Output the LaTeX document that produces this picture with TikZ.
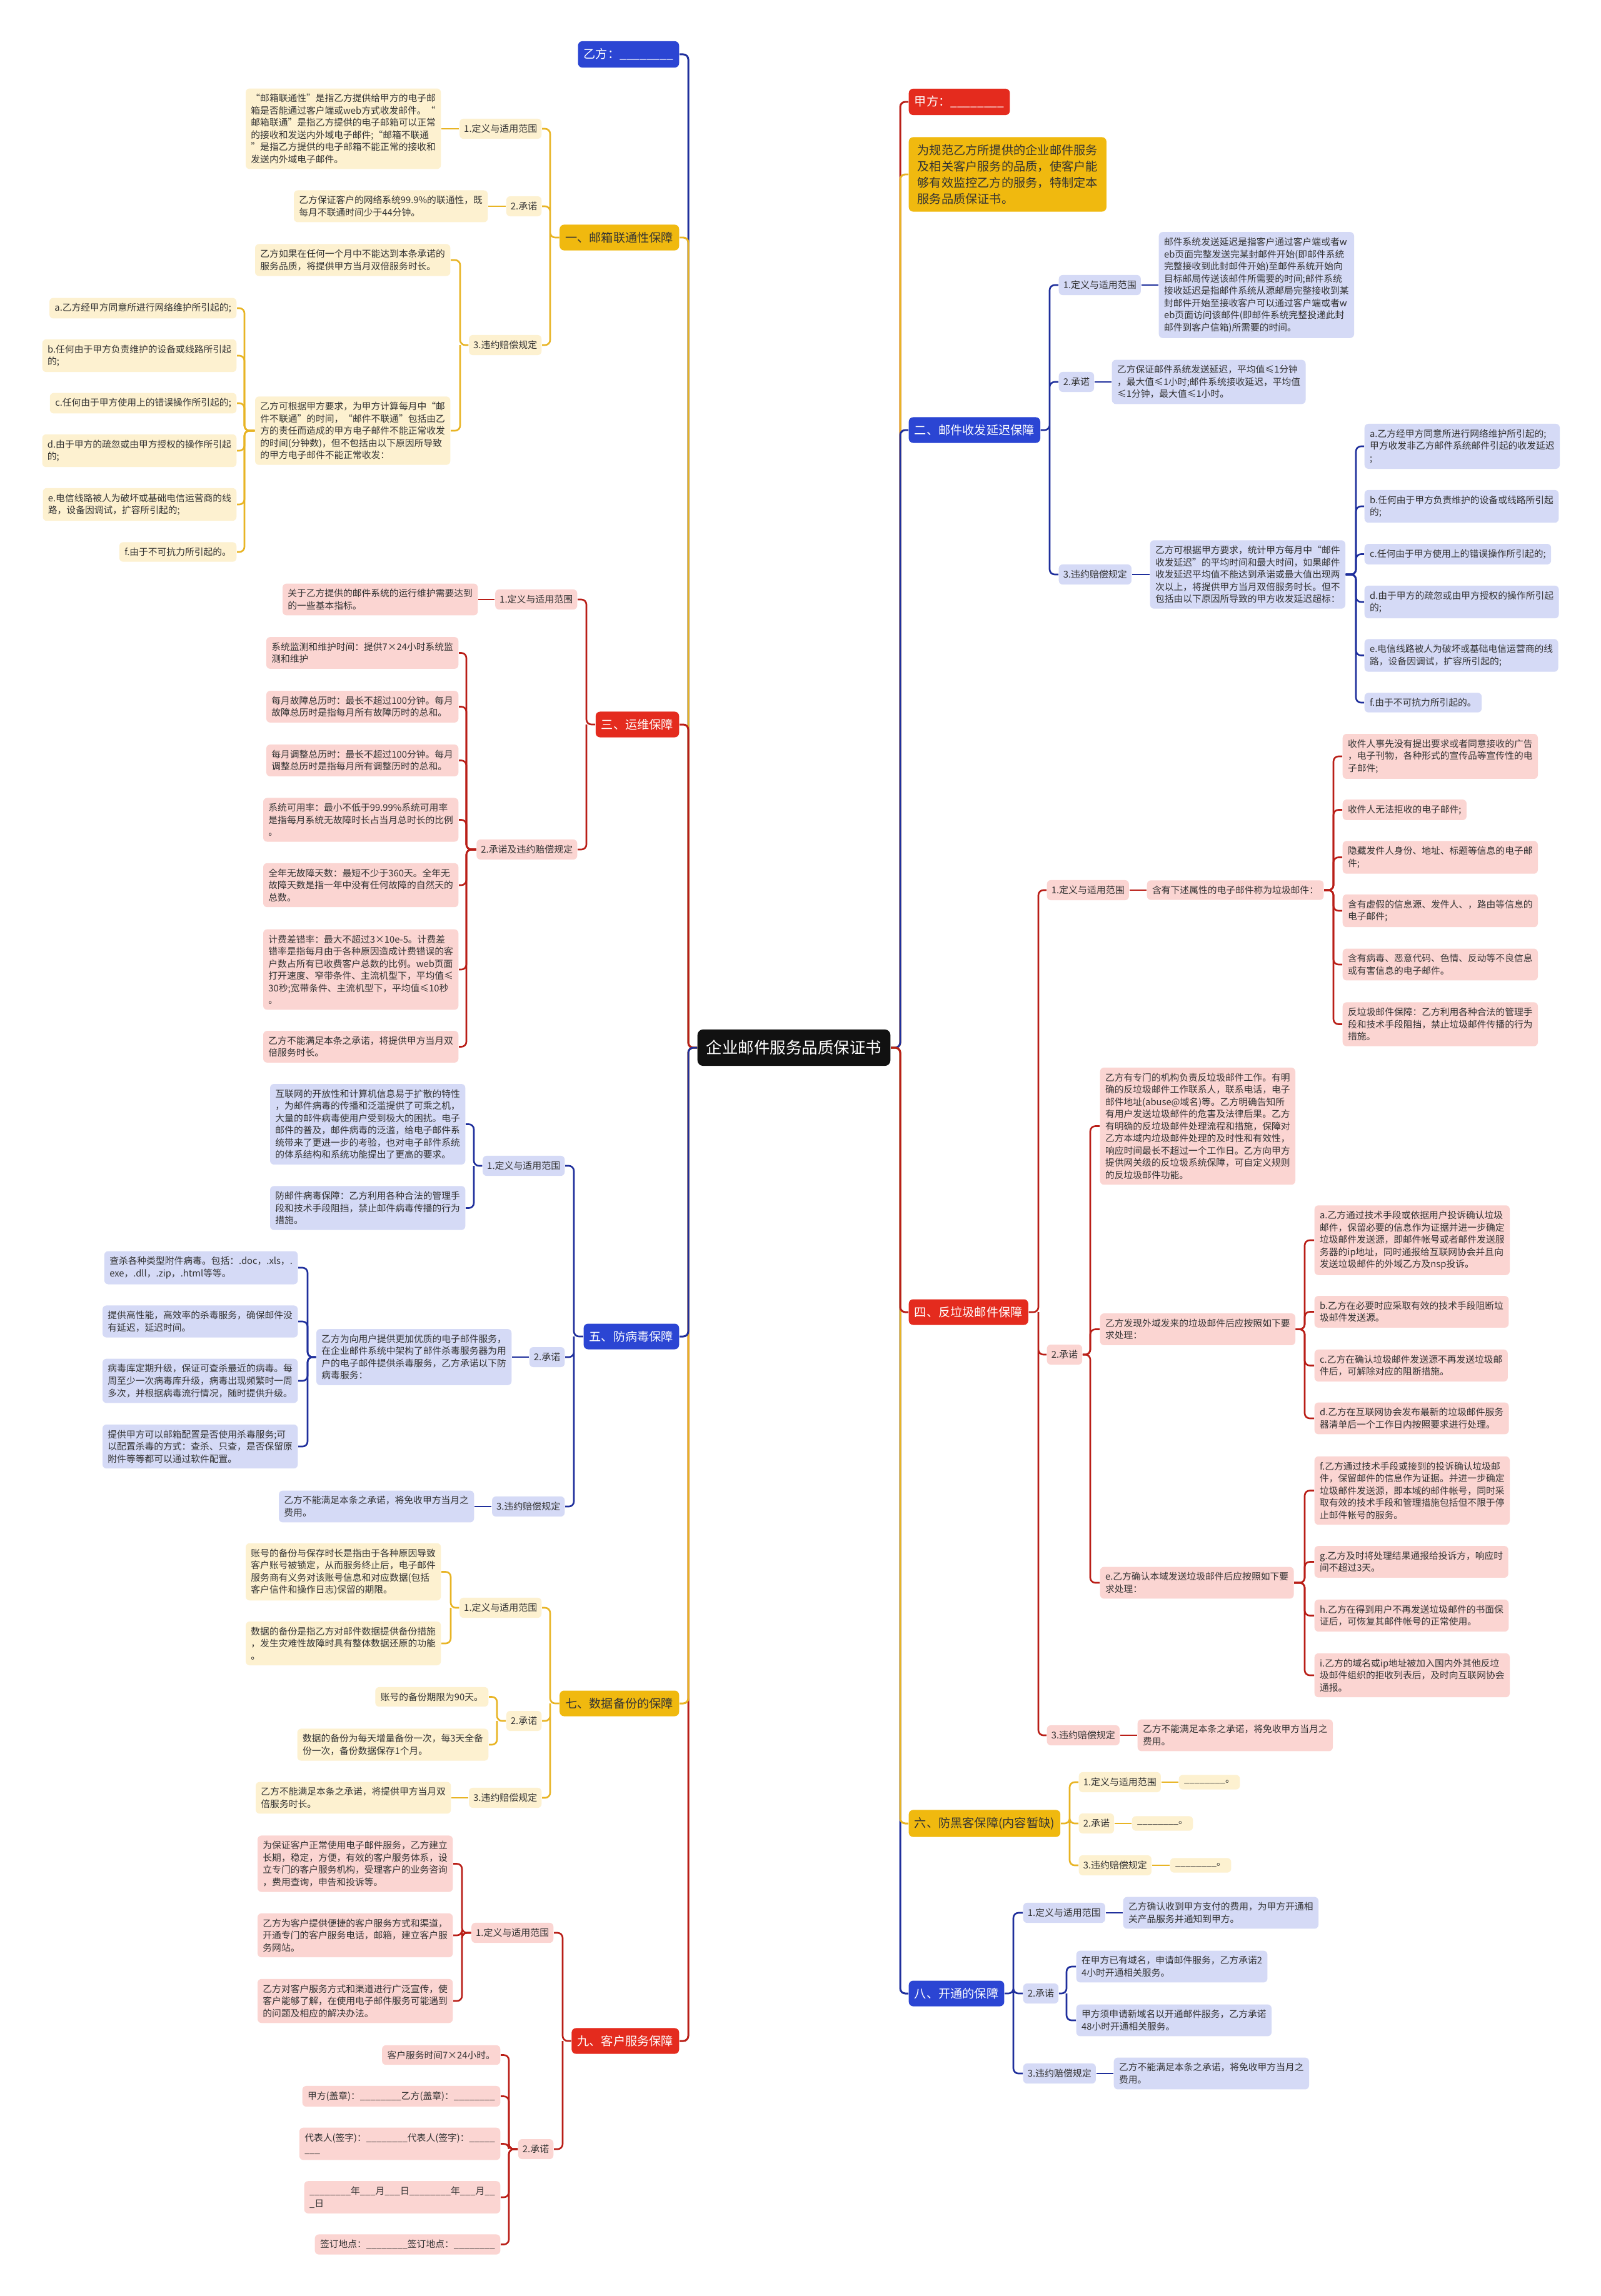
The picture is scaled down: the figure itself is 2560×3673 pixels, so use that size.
\documentclass[tikz,border=0pt]{standalone}
\usepackage{fontspec}
\setmainfont{Noto Sans CJK SC}
\definecolor{bM}{HTML}{2B45D3}
\definecolor{bL}{HTML}{D5DAF6}
\definecolor{bLn}{HTML}{1F2F9C}
\definecolor{rM}{HTML}{E42B1E}
\definecolor{rL}{HTML}{FBD5D2}
\definecolor{rLn}{HTML}{B91E17}
\definecolor{yM}{HTML}{F0B90F}
\definecolor{yL}{HTML}{FDF1D0}
\definecolor{yLn}{HTML}{E8B424}
\definecolor{txt}{HTML}{333333}
\definecolor{ttl}{HTML}{111111}
\newcommand\leaffs{\fontsize{4.2pt}{5.55pt}\selectfont}
\newcommand\labfs{\fontsize{4.25pt}{5.6pt}\selectfont}
\newcommand\mainfs{\fontsize{5.46pt}{7.4pt}\selectfont}
\newcommand\titlefs{\fontsize{7.25pt}{9pt}\selectfont}
\newcommand\myblank{\_\_\_\_\_\_\_\_}
\pgfdeclarelayer{bg}
\pgfsetlayers{bg,main}
\tikzset{
  box/.style={rounded corners=1.8pt, align=left, text=txt, inner xsep=2.4pt, inner ysep=2.5pt, font=\leaffs},
  leafB/.style={box, fill=bL}, leafR/.style={box, fill=rL}, leafY/.style={box, fill=yL},
  lab/.style={box, font=\labfs, inner xsep=2pt, inner ysep=2.6pt},
  labB/.style={lab, fill=bL}, labR/.style={lab, fill=rL}, labY/.style={lab, fill=yL},
  mainS/.style={rounded corners=2pt, align=left, font=\mainfs, inner xsep=2.6pt, inner ysep=3.3pt},
  mainB/.style={mainS, fill=bM, text=white}, mainR/.style={mainS, fill=rM, text=white},
  mainY/.style={mainS, fill=yM, text=txt},
  introS/.style={mainS, fill=yM, text=txt, inner xsep=4pt},
  titleS/.style={rounded corners=2.5pt, fill=ttl, text=white, font=\titlefs, inner xsep=4pt, inner ysep=4.9pt},
  ln/.style={line width=0.75pt, rounded corners=2.3pt},
  lnB/.style={ln, draw=bLn}, lnR/.style={ln, draw=rLn}, lnY/.style={ln, draw=yLn},
  mlnB/.style={lnB, line width=0.85pt}, mlnR/.style={lnR, line width=0.85pt}, mlnY/.style={lnY, line width=0.85pt}
}
\begin{document}
\begin{tikzpicture}[x=0.01cm,y=-0.01cm]
\useasboundingbox (0,0) rectangle (2560,3673);
% ---------- title
\node[titleS] (T) at (1270,1676) {企业邮件服务品质保证书};
% ---------- LEFT
\node[mainB,anchor=east] (yf) at (1087,87) {乙方：\myblank};
% 一
\node[mainY,anchor=east] (m1) at (1087,380) {一、邮箱联通性保障};
\node[labY,anchor=east] (m1a) at (867,206) {1.定义与适用范围};
\node[leafY,anchor=east] (m1a1) at (706,206) {“邮箱联通性”是指乙方提供给甲方的电子邮\\箱是否能通过客户端或web方式收发邮件。“\\邮箱联通”是指乙方提供的电子邮箱可以正常\\的接收和发送内外域电子邮件;“邮箱不联通\\”是指乙方提供的电子邮箱不能正常的接收和\\发送内外域电子邮件。};
\node[labY,anchor=east] (m1b) at (867,330) {2.承诺};
\node[leafY,anchor=east] (m1b1) at (781,330) {乙方保证客户的网络系统99.9\%的联通性，既\\每月不联通时间少于44分钟。};
\node[labY,anchor=east] (m1c) at (867,552) {3.违约赔偿规定};
\node[leafY,anchor=east] (m1c1) at (721,416) {乙方如果在任何一个月中不能达到本条承诺的\\服务品质，将提供甲方当月双倍服务时长。};
\node[leafY,anchor=east] (m1c2) at (721,689) {乙方可根据甲方要求，为甲方计算每月中“邮\\件不联通”的时间，“邮件不联通”包括由乙\\方的责任而造成的甲方电子邮件不能正常收发\\的时间(分钟数)，但不包括由以下原因所导致\\的甲方电子邮件不能正常收发：};
\node[leafY,anchor=east] (m1d1) at (379,493) {a.乙方经甲方同意所进行网络维护所引起的;};
\node[leafY,anchor=east] (m1d2) at (379,569) {b.任何由于甲方负责维护的设备或线路所引起\\的;};
\node[leafY,anchor=east] (m1d3) at (379,645) {c.任何由于甲方使用上的错误操作所引起的;};
\node[leafY,anchor=east] (m1d4) at (379,721) {d.由于甲方的疏忽或由甲方授权的操作所引起\\的;};
\node[leafY,anchor=east] (m1d5) at (379,807) {e.电信线路被人为破坏或基础电信运营商的线\\路，设备因调试，扩容所引起的;};
\node[leafY,anchor=east] (m1d6) at (379,883) {f.由于不可抗力所引起的。};
% 三
\node[mainR,anchor=east] (m3) at (1087,1159) {三、运维保障};
\node[labR,anchor=east] (m3a) at (924,959) {1.定义与适用范围};
\node[leafR,anchor=east] (m3a1) at (765,959) {关于乙方提供的邮件系统的运行维护需要达到\\的一些基本指标。};
\node[labR,anchor=east] (m3b) at (924,1359) {2.承诺及违约赔偿规定};
\node[leafR,anchor=east] (m3c1) at (734,1044.5) {系统监测和维护时间：提供7×24小时系统监\\测和维护};
\node[leafR,anchor=east] (m3c2) at (734,1130.5) {每月故障总历时：最长不超过100分钟。每月\\故障总历时是指每月所有故障历时的总和。};
\node[leafR,anchor=east] (m3c3) at (734,1216.5) {每月调整总历时：最长不超过100分钟。每月\\调整总历时是指每月所有调整历时的总和。};
\node[leafR,anchor=east] (m3c4) at (734,1311.5) {系统可用率：最小不低于99.99\%系统可用率\\是指每月系统无故障时长占当月总时长的比例\\。};
\node[leafR,anchor=east] (m3c5) at (734,1416) {全年无故障天数：最短不少于360天。全年无\\故障天数是指一年中没有任何故障的自然天的\\总数。};
\node[leafR,anchor=east] (m3c6) at (734,1551) {计费差错率：最大不超过3×10e-5。计费差\\错率是指每月由于各种原因造成计费错误的客\\户数占所有已收费客户总数的比例。web页面\\打开速度、窄带条件、主流机型下，平均值≤\\30秒;宽带条件、主流机型下，平均值≤10秒\\。};
\node[leafR,anchor=east] (m3c7) at (734,1674.5) {乙方不能满足本条之承诺，将提供甲方当月双\\倍服务时长。};
% 五
\node[mainB,anchor=east] (m5) at (1087,2138) {五、防病毒保障};
\node[labB,anchor=east] (m5a) at (904,1865) {1.定义与适用范围};
\node[leafB,anchor=east] (m5a1) at (745,1798.5) {互联网的开放性和计算机信息易于扩散的特性\\，为邮件病毒的传播和泛滥提供了可乘之机，\\大量的邮件病毒使用户受到极大的困扰。电子\\邮件的普及，邮件病毒的泛滥，给电子邮件系\\统带来了更进一步的考验，也对电子邮件系统\\的体系结构和系统功能提出了更高的要求。};
\node[leafB,anchor=east] (m5a2) at (745,1932.5) {防邮件病毒保障：乙方利用各种合法的管理手\\段和技术手段阻挡，禁止邮件病毒传播的行为\\措施。};
\node[labB,anchor=east] (m5b) at (904,2171) {2.承诺};
\node[leafB,anchor=east] (m5b1) at (819,2171) {乙方为向用户提供更加优质的电子邮件服务，\\在企业邮件系统中架构了邮件杀毒服务器为用\\户的电子邮件提供杀毒服务，乙方承诺以下防\\病毒服务：};
\node[leafB,anchor=east] (m5d1) at (477,2028) {查杀各种类型附件病毒。包括：.doc，.xls，.\\exe，.dll，.zip，.html等等。};
\node[leafB,anchor=east] (m5d2) at (477,2114) {提供高性能，高效率的杀毒服务，确保邮件没\\有延迟，延迟时间。};
\node[leafB,anchor=east] (m5d3) at (477,2209) {病毒库定期升级，保证可查杀最近的病毒。每\\周至少一次病毒库升级，病毒出现频繁时一周\\多次，并根据病毒流行情况，随时提供升级。};
\node[leafB,anchor=east] (m5d4) at (477,2314) {提供甲方可以邮箱配置是否使用杀毒服务;可\\以配置杀毒的方式：查杀、只查，是否保留原\\附件等等都可以通过软件配置。};
\node[labB,anchor=east] (m5c) at (904,2410) {3.违约赔偿规定};
\node[leafB,anchor=east] (m5c1) at (759,2410) {乙方不能满足本条之承诺，将免收甲方当月之\\费用。};
% 七
\node[mainY,anchor=east] (m7) at (1087,2725) {七、数据备份的保障};
\node[labY,anchor=east] (m7a) at (867,2572) {1.定义与适用范围};
\node[leafY,anchor=east] (m7a1) at (706,2514.5) {账号的备份与保存时长是指由于各种原因导致\\客户账号被锁定，从而服务终止后，电子邮件\\服务商有义务对该账号信息和对应数据(包括\\客户信件和操作日志)保留的期限。};
\node[leafY,anchor=east] (m7a2) at (706,2629) {数据的备份是指乙方对邮件数据提供备份措施\\，发生灾难性故障时具有整体数据还原的功能\\。};
\node[labY,anchor=east] (m7b) at (867,2753) {2.承诺};
\node[leafY,anchor=east] (m7b1) at (782,2714.5) {账号的备份期限为90天。};
\node[leafY,anchor=east] (m7b2) at (782,2791) {数据的备份为每天增量备份一次，每3天全备\\份一次，备份数据保存1个月。};
\node[labY,anchor=east] (m7c) at (867,2876) {3.违约赔偿规定};
\node[leafY,anchor=east] (m7c1) at (722,2876) {乙方不能满足本条之承诺，将提供甲方当月双\\倍服务时长。};
% 九
\node[mainR,anchor=east] (m9) at (1087,3265) {九、客户服务保障};
\node[labR,anchor=east] (m9a) at (886,3092) {1.定义与适用范围};
\node[leafR,anchor=east] (m9a1) at (725,2981.5) {为保证客户正常使用电子邮件服务，乙方建立\\长期，稳定，方便，有效的客户服务体系，设\\立专门的客户服务机构，受理客户的业务咨询\\，费用查询，申告和投诉等。};
\node[leafR,anchor=east] (m9a2) at (725,3096) {乙方为客户提供便捷的客户服务方式和渠道，\\开通专门的客户服务电话，邮箱，建立客户服\\务网站。};
\node[leafR,anchor=east] (m9a3) at (725,3201) {乙方对客户服务方式和渠道进行广泛宣传，使\\客户能够了解，在使用电子邮件服务可能遇到\\的问题及相应的解决办法。};
\node[labR,anchor=east] (m9b) at (886,3438) {2.承诺};
\node[leafR,anchor=east] (m9b1) at (801,3287.5) {客户服务时间7×24小时。};
\node[leafR,anchor=east] (m9b2) at (801,3353.5) {甲方(盖章)：\myblank 乙方(盖章)：\myblank};
\node[leafR,anchor=east] (m9b3) at (801,3429.5) {代表人(签字)：\myblank 代表人(签字)：\_\_\_\_\_\\\_\_\_};
\node[leafR,anchor=east] (m9b4) at (801,3515) {\myblank 年\_\_\_月\_\_\_日\myblank 年\_\_\_月\_\_\\\_日};
\node[leafR,anchor=east] (m9b5) at (801,3590.5) {签订地点：\myblank 签订地点：\myblank};
% ---------- RIGHT
\node[mainR,anchor=west] (jf) at (1453,163) {甲方：\myblank};
\node[introS,anchor=west] (intro) at (1453,279) {为规范乙方所提供的企业邮件服务\\及相关客户服务的品质，使客户能\\够有效监控乙方的服务，特制定本\\服务品质保证书。};
% 二
\node[mainB,anchor=west] (m2) at (1453,688) {二、邮件收发延迟保障};
\node[labB,anchor=west] (m2a) at (1693,456) {1.定义与适用范围};
\node[leafB,anchor=west] (m2a1) at (1853,456) {邮件系统发送延迟是指客户通过客户端或者w\\eb页面完整发送完某封邮件开始(即邮件系统\\完整接收到此封邮件开始)至邮件系统开始向\\目标邮局传送该邮件所需要的时间;邮件系统\\接收延迟是指邮件系统从源邮局完整接收到某\\封邮件开始至接收客户可以通过客户端或者w\\eb页面访问该邮件(即邮件系统完整投递此封\\邮件到客户信箱)所需要的时间。};
\node[labB,anchor=west] (m2b) at (1693,611) {2.承诺};
\node[leafB,anchor=west] (m2b1) at (1778,611) {乙方保证邮件系统发送延迟，平均值≤1分钟\\，最大值≤1小时;邮件系统接收延迟，平均值\\≤1分钟，最大值≤1小时。};
\node[labB,anchor=west] (m2c) at (1693,919) {3.违约赔偿规定};
\node[leafB,anchor=west] (m2c1) at (1839,919) {乙方可根据甲方要求，统计甲方每月中“邮件\\收发延迟”的平均时间和最大时间，如果邮件\\收发延迟平均值不能达到承诺或最大值出现两\\次以上，将提供甲方当月双倍服务时长。但不\\包括由以下原因所导致的甲方收发延迟超标：};
\node[leafB,anchor=west] (m2d1) at (2182,714) {a.乙方经甲方同意所进行网络维护所引起的;\\甲方收发非乙方邮件系统邮件引起的收发延迟\\;};
\node[leafB,anchor=west] (m2d2) at (2182,810) {b.任何由于甲方负责维护的设备或线路所引起\\的;};
\node[leafB,anchor=west] (m2d3) at (2182,886.5) {c.任何由于甲方使用上的错误操作所引起的;};
\node[leafB,anchor=west] (m2d4) at (2182,963) {d.由于甲方的疏忽或由甲方授权的操作所引起\\的;};
\node[leafB,anchor=west] (m2d5) at (2182,1048.5) {e.电信线路被人为破坏或基础电信运营商的线\\路，设备因调试，扩容所引起的;};
\node[leafB,anchor=west] (m2d6) at (2182,1124) {f.由于不可抗力所引起的。};
% 四
\node[mainR,anchor=west] (m4) at (1453,2099) {四、反垃圾邮件保障};
\node[labR,anchor=west] (m4a) at (1674,1424) {1.定义与适用范围};
\node[leafR,anchor=west] (m4a1) at (1834,1424) {含有下述属性的电子邮件称为垃圾邮件：};
\node[leafR,anchor=west] (m4e1) at (2147,1210) {收件人事先没有提出要求或者同意接收的广告\\，电子刊物，各种形式的宣传品等宣传性的电\\子邮件;};
\node[leafR,anchor=west] (m4e2) at (2147,1295.5) {收件人无法拒收的电子邮件;};
\node[leafR,anchor=west] (m4e3) at (2147,1371.5) {隐藏发件人身份、地址、标题等信息的电子邮\\件;};
\node[leafR,anchor=west] (m4e4) at (2147,1457) {含有虚假的信息源、发件人、，路由等信息的\\电子邮件;};
\node[leafR,anchor=west] (m4e5) at (2147,1543) {含有病毒、恶意代码、色情、反动等不良信息\\或有害信息的电子邮件。};
\node[leafR,anchor=west] (m4e6) at (2147,1638.5) {反垃圾邮件保障：乙方利用各种合法的管理手\\段和技术手段阻挡，禁止垃圾邮件传播的行为\\措施。};
\node[labR,anchor=west] (m4b) at (1674,2167) {2.承诺};
\node[leafR,anchor=west] (m4b1) at (1759,1801.5) {乙方有专门的机构负责反垃圾邮件工作。有明\\确的反垃圾邮件工作联系人，联系电话，电子\\邮件地址(abuse@域名)等。乙方明确告知所\\有用户发送垃圾邮件的危害及法律后果。乙方\\有明确的反垃圾邮件处理流程和措施，保障对\\乙方本域内垃圾邮件处理的及时性和有效性，\\响应时间最长不超过一个工作日。乙方向甲方\\提供网关级的反垃圾系统保障，可自定义规则\\的反垃圾邮件功能。};
\node[leafR,anchor=west] (m4b2) at (1759,2126.5) {乙方发现外域发来的垃圾邮件后应按照如下要\\求处理：};
\node[leafR,anchor=west] (m4b3) at (1759,2532) {e.乙方确认本域发送垃圾邮件后应按照如下要\\求处理：};
\node[leafR,anchor=west] (m4f1) at (2102,1984) {a.乙方通过技术手段或依据用户投诉确认垃圾\\邮件，保留必要的信息作为证据并进一步确定\\垃圾邮件发送源，即邮件帐号或者邮件发送服\\务器的ip地址，同时通报给互联网协会并且向\\发送垃圾邮件的外域乙方及nsp投诉。};
\node[leafR,anchor=west] (m4f2) at (2102,2098.5) {b.乙方在必要时应采取有效的技术手段阻断垃\\圾邮件发送源。};
\node[leafR,anchor=west] (m4f3) at (2102,2184.5) {c.乙方在确认垃圾邮件发送源不再发送垃圾邮\\件后，可解除对应的阻断措施。};
\node[leafR,anchor=west] (m4f4) at (2102,2269) {d.乙方在互联网协会发布最新的垃圾邮件服务\\器清单后一个工作日内按照要求进行处理。};
\node[leafR,anchor=west] (m4g1) at (2102,2384.5) {f.乙方通过技术手段或接到的投诉确认垃圾邮\\件，保留邮件的信息作为证据。并进一步确定\\垃圾邮件发送源，即本域的邮件帐号，同时采\\取有效的技术手段和管理措施包括但不限于停\\止邮件帐号的服务。};
\node[leafR,anchor=west] (m4g2) at (2102,2498.5) {g.乙方及时将处理结果通报给投诉方，响应时\\间不超过3天。};
\node[leafR,anchor=west] (m4g3) at (2102,2584.5) {h.乙方在得到用户不再发送垃圾邮件的书面保\\证后，可恢复其邮件帐号的正常使用。};
\node[leafR,anchor=west] (m4g4) at (2102,2680) {i.乙方的域名或ip地址被加入国内外其他反垃\\圾邮件组织的拒收列表后，及时向互联网协会\\通报。};
\node[labR,anchor=west] (m4c) at (1674,2776) {3.违约赔偿规定};
\node[leafR,anchor=west] (m4c1) at (1819,2776) {乙方不能满足本条之承诺，将免收甲方当月之\\费用。};
% 六
\node[mainY,anchor=west] (m6) at (1453,2917) {六、防黑客保障(内容暂缺)};
\node[labY,anchor=west] (m6a) at (1725,2851) {1.定义与适用范围};
\node[leafY,anchor=west] (m6a1) at (1885,2851) {\myblank。};
\node[labY,anchor=west] (m6b) at (1725,2917) {2.承诺};
\node[leafY,anchor=west] (m6b1) at (1810,2917) {\myblank。};
\node[labY,anchor=west] (m6c) at (1725,2984) {3.违约赔偿规定};
\node[leafY,anchor=west] (m6c1) at (1871,2984) {\myblank。};
% 八
\node[mainB,anchor=west] (m8) at (1453,3189) {八、开通的保障};
\node[labB,anchor=west] (m8a) at (1636,3060) {1.定义与适用范围};
\node[leafB,anchor=west] (m8a1) at (1796,3060) {乙方确认收到甲方支付的费用，为甲方开通相\\关产品服务并通知到甲方。};
\node[labB,anchor=west] (m8b) at (1636,3189) {2.承诺};
\node[leafB,anchor=west] (m8b1) at (1721,3146) {在甲方已有域名，申请邮件服务，乙方承诺2\\4小时开通相关服务。};
\node[leafB,anchor=west] (m8b2) at (1721,3232) {甲方须申请新域名以开通邮件服务，乙方承诺\\48小时开通相关服务。};
\node[labB,anchor=west] (m8c) at (1636,3317) {3.违约赔偿规定};
\node[leafB,anchor=west] (m8c1) at (1781,3317) {乙方不能满足本条之承诺，将免收甲方当月之\\费用。};
% ---------- connectors
\begin{pgfonlayer}{bg}
\fill[white] (0,0) rectangle (2560,3673);
% main, left (far first)
\draw[mlnB] (T.west) -- ++(-14,0) |- (yf.east);
\draw[mlnY] (T.west) -- ++(-14,0) |- (m1.east);
\draw[mlnR] (T.west) -- ++(-14,0) |- (m3.east);
\draw[mlnR] (T.west) -- ++(-14,0) |- (m9.east);
\draw[mlnY] (T.west) -- ++(-14,0) |- (m7.east);
\draw[mlnB] (T.west) -- ++(-14,0) |- (m5.east);
% main, right
\draw[mlnR] (T.east) -- ++(15,0) |- (jf.west);
\draw[mlnY] (T.east) -- ++(15,0) |- (intro.west);
\draw[mlnB] (T.east) -- ++(15,0) |- (m2.west);
\draw[mlnB] (T.east) -- ++(15,0) |- (m8.west);
\draw[mlnY] (T.east) -- ++(15,0) |- (m6.west);
\draw[mlnR] (T.east) -- ++(15,0) |- (m4.west);
% 一
\draw[lnY] (m1.west) -- (880,380) |- (m1a.east) (880,380) |- (m1b.east) (880,380) |- (m1c.east);
\draw[lnY] (m1a.west) -- (m1a1.east);
\draw[lnY] (m1b.west) -- (m1b1.east);
\draw[lnY] (m1c.west) -- (736,552) |- (m1c1.east) (736,552) |- (m1c2.east);
\foreach \i in {1,...,6} {\draw[lnY] (m1c2.west) -- (391,689) |- (m1d\i.east);}
% 三
\draw[lnR] (m3.west) -- (938,1159) |- (m3a.east) (938,1159) |- (m3b.east);
\draw[lnR] (m3a.west) -- (m3a1.east);
\foreach \i in {1,...,7} {\draw[lnR] (m3b.west) -- (746,1359) |- (m3c\i.east);}
% 五
\draw[lnB] (m5.west) -- (918,2138) |- (m5a.east) (918,2138) |- (m5b.east) (918,2138) |- (m5c.east);
\draw[lnB] (m5a.west) -- (758,1865) |- (m5a1.east) (758,1865) |- (m5a2.east);
\draw[lnB] (m5b.west) -- (m5b1.east);
\foreach \i in {1,...,4} {\draw[lnB] (m5b1.west) -- (492,2171) |- (m5d\i.east);}
\draw[lnB] (m5c.west) -- (m5c1.east);
% 七
\draw[lnY] (m7.west) -- (880,2725) |- (m7a.east) (880,2725) |- (m7b.east) (880,2725) |- (m7c.east);
\draw[lnY] (m7a.west) -- (721,2572) |- (m7a1.east) (721,2572) |- (m7a2.east);
\draw[lnY] (m7b.west) -- (795,2753) |- (m7b1.east) (795,2753) |- (m7b2.east);
\draw[lnY] (m7c.west) -- (m7c1.east);
% 九
\draw[lnR] (m9.west) -- (900,3265) |- (m9a.east) (900,3265) |- (m9b.east);
\foreach \i in {1,2,3} {\draw[lnR] (m9a.west) -- (739,3092) |- (m9a\i.east);}
\foreach \i in {1,...,5} {\draw[lnR] (m9b.west) -- (814,3438) |- (m9b\i.east);}
% 二
\draw[lnB] (m2.east) -- (1679,688) |- (m2a.west) (1679,688) |- (m2b.west) (1679,688) |- (m2c.west);
\draw[lnB] (m2a.east) -- (m2a1.west);
\draw[lnB] (m2b.east) -- (m2b1.west);
\draw[lnB] (m2c.east) -- (m2c1.west);
\foreach \i in {1,...,6} {\draw[lnB] (m2c1.east) -- (2169,919) |- (m2d\i.west);}
% 四
\draw[lnR] (m4.east) -- (1661,2099) |- (m4a.west) (1661,2099) |- (m4b.west) (1661,2099) |- (m4c.west);
\draw[lnR] (m4a.east) -- (m4a1.west);
\foreach \i in {1,...,6} {\draw[lnR] (m4a1.east) -- (2133,1424) |- (m4e\i.west);}
\foreach \i in {1,2,3} {\draw[lnR] (m4b.east) -- (1744,2167) |- (m4b\i.west);}
\foreach \i in {1,...,4} {\draw[lnR] (m4b2.east) -- (2087,2126.5) |- (m4f\i.west);}
\foreach \i in {1,...,4} {\draw[lnR] (m4b3.east) -- (2087,2532) |- (m4g\i.west);}
\draw[lnR] (m4c.east) -- (m4c1.west);
% 六
\draw[lnY] (m6.east) -- (1711,2917) |- (m6a.west) (1711,2917) |- (m6b.west) (1711,2917) |- (m6c.west);
\draw[lnY] (m6a.east) -- (m6a1.west);
\draw[lnY] (m6b.east) -- (m6b1.west);
\draw[lnY] (m6c.east) -- (m6c1.west);
% 八
\draw[lnB] (m8.east) -- (1621,3189) |- (m8a.west) (1621,3189) |- (m8b.west) (1621,3189) |- (m8c.west);
\draw[lnB] (m8a.east) -- (m8a1.west);
\draw[lnB] (m8b.east) -- (1706,3189) |- (m8b1.west) (1706,3189) |- (m8b2.west);
\draw[lnB] (m8c.east) -- (m8c1.west);
\end{pgfonlayer}
\end{tikzpicture}
\end{document}
